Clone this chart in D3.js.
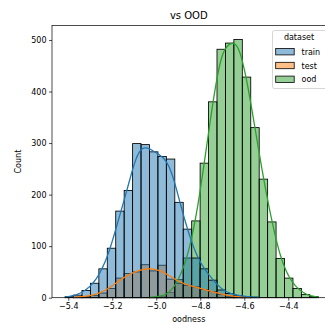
<!DOCTYPE html>
<html>
<head>
<meta charset="utf-8">
<script src="https://cdn.jsdelivr.net/npm/d3@7/dist/d3.min.js"></script>
<style>
  html, body { margin: 0; padding: 0; background: #fff; }
  svg { display: block; font-family: "DejaVu Sans", sans-serif; }
</style>
</head>
<body>
<div id="chart"></div>
<script>
// histogram: 30 common bins (left edge + width)
const binStart = -5.4145;
const binWidth = 0.03836;
const trainCounts = [2, 5, 14, 28, 56, 96, 168, 208, 299, 297, 283, 274, 269, 185, 133, 77, 56, 34, 15, 8, 4, 2, 1, 0, 0, 0, 0, 0, 0, 0];
const testCounts  = [0, 1, 2, 4, 9, 18, 38, 47, 50, 64, 52, 63, 36, 28, 24, 21, 16, 12, 6, 3, 1, 1, 0, 0, 0, 0, 0, 0, 0, 0];
const oodCounts   = [0, 0, 0, 0, 0, 0, 0, 0, 0, 0, 1, 3, 10, 35, 77, 149, 261, 380, 482, 494, 501, 428, 330, 230, 147, 76, 38, 18, 6, 2];
const seriesNames = ['train', 'test', 'ood'];
const seriesColors = ['#1f77b4', '#ff7f0e', '#2ca02c'];
const xTicks = [-5.4, -5.2, -5.0, -4.8, -4.6, -4.4];
const yTicks = [0, 100, 200, 300, 400, 500];

const W = 325, H = 323;
const m = { left: 52, right: 325.5, top: 25.5, bottom: 297.7 };

const x = d3.scaleLinear().domain([-5.474, -4.2308]).range([m.left, m.right]);
const y = d3.scaleLinear().domain([0, 528.1]).range([m.bottom, m.top]);

const svg = d3.select('#chart').append('svg').attr('width', W).attr('height', H);

// kde on the count scale, built from the binned counts (cut = 0)
function kdeLine(counts) {
  const centers = counts.map((_, i) => binStart + (i + 0.5) * binWidth);
  const n = d3.sum(counts);
  const mean = d3.sum(counts, (c, i) => c * centers[i]) / n;
  const v = d3.sum(counts, (c, i) => c * (centers[i] - mean) ** 2) / n;
  const h = 1.25 * Math.sqrt(v) * Math.pow(n, -0.2);
  const nz = counts.map((c, i) => c > 0 ? i : -1).filter(i => i >= 0);
  const lo = binStart + nz[0] * binWidth, hi = binStart + (nz[nz.length - 1] + 1) * binWidth;
  return d3.range(240).map(k => {
    const xv = lo + (hi - lo) * k / 239;
    let s = 0;
    counts.forEach((c, i) => { const z = (xv - centers[i]) / h; s += c * Math.exp(-0.5 * z * z); });
    return [xv, s * binWidth / (h * Math.sqrt(2 * Math.PI))];
  });
}

const allCounts = [trainCounts, testCounts, oodCounts];
const plot = svg.append('g');

// bars, last hue first so train sits on top
[2, 1, 0].forEach(si => {
  plot.append('g').selectAll('rect').data(allCounts[si]).join('rect')
    .attr('x', (d, i) => x(binStart + i * binWidth))
    .attr('width', x(binStart + binWidth) - x(binStart))
    .attr('y', d => y(d))
    .attr('height', d => y(0) - y(d))
    .attr('fill', seriesColors[si]).attr('fill-opacity', 0.5)
    .attr('stroke', d => d > 0 ? '#000' : 'none').attr('stroke-width', 0.85);
});

const line = d3.line().x(d => x(d[0])).y(d => y(d[1]));
[2, 1, 0].forEach(si => {
  plot.append('path').datum(kdeLine(allCounts[si]))
    .attr('d', line).attr('fill', 'none')
    .attr('stroke', seriesColors[si]).attr('stroke-width', 1.3);
});

// axes
const xAxis = d3.axisBottom(x).tickValues(xTicks).tickSize(3).tickPadding(2.5)
  .tickFormat(d => d3.format('.1f')(d).replace('-', '\u2212'));
const gx = svg.append('g').attr('transform', `translate(0,${m.bottom})`).call(xAxis);
const yAxis = d3.axisLeft(y).tickValues(yTicks).tickSize(3).tickPadding(2.5);
const gy = svg.append('g').attr('transform', `translate(${m.left},0)`).call(yAxis);
[gx, gy].forEach(g => {
  g.select('.domain').remove();
  g.selectAll('line').attr('stroke', '#000').attr('stroke-width', 0.7);
  g.selectAll('text').attr('fill', '#000').style('font-size', '8px').style('font-family', '"DejaVu Sans", sans-serif');
});

// spines
svg.append('rect').attr('x', m.left).attr('y', m.top).attr('width', m.right - m.left).attr('height', m.bottom - m.top)
  .attr('fill', 'none').attr('stroke', '#000').attr('stroke-width', 0.7);

svg.append('text').attr('x', (m.left + m.right) / 2).attr('y', 19).attr('text-anchor', 'middle')
  .style('font-size', '10px').text('vs OOD');
svg.append('text').attr('x', (m.left + m.right) / 2).attr('y', 321.5).attr('text-anchor', 'middle')
  .style('font-size', '8px').text('oodness');
svg.append('text').attr('transform', `translate(21,${(m.top + m.bottom) / 2}) rotate(-90)`).attr('text-anchor', 'middle')
  .style('font-size', '8px').text('Count');

// legend
const lg = svg.append('g');
lg.append('rect').attr('x', 272.5).attr('y', 30.5).attr('width', 55).attr('height', 58).attr('rx', 2)
  .attr('fill', '#fff').attr('fill-opacity', 0.8).attr('stroke', '#ccc').attr('stroke-width', 0.8);
lg.append('text').attr('x', 299).attr('y', 40).attr('text-anchor', 'middle').style('font-size', '8px').text('dataset');
seriesNames.forEach((name, i) => {
  const cy = 51.7 + i * 13.8;
  lg.append('rect').attr('x', 275.7).attr('y', cy - 3.2).attr('width', 18.5).attr('height', 6.4)
    .attr('fill', seriesColors[i]).attr('fill-opacity', 0.5).attr('stroke', '#000').attr('stroke-width', 0.8);
  lg.append('text').attr('x', 301.5).attr('y', cy + 3).style('font-size', '8px').text(name);
});
</script>
</body>
</html>
